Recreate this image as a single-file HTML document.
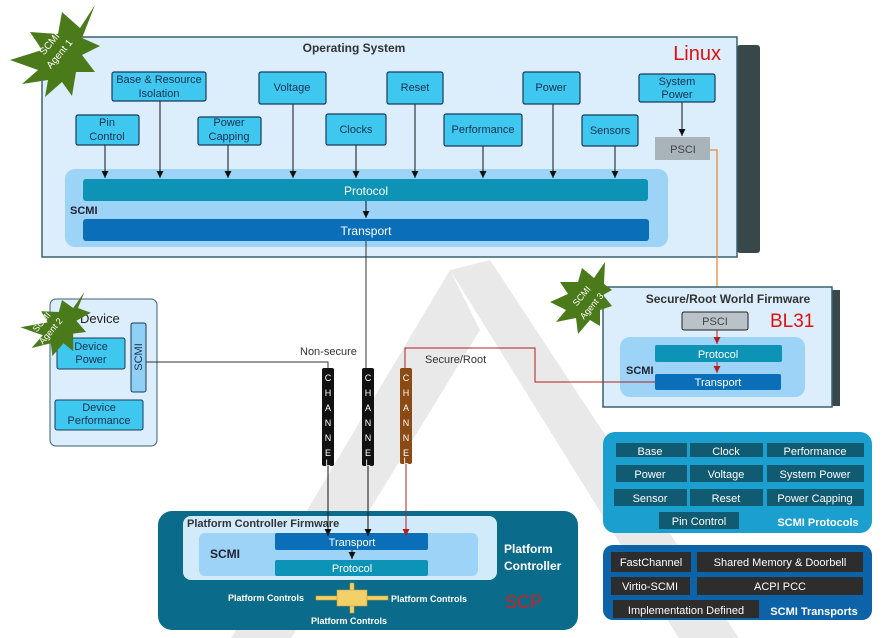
<!DOCTYPE html>
<html><head><meta charset="utf-8"><style>
body{margin:0;background:#fff}
svg{display:block;font-family:"Liberation Sans","DejaVu Sans",sans-serif}
</style></head><body>
<svg width="893" height="638" viewBox="0 0 893 638" xmlns="http://www.w3.org/2000/svg">
<defs>
<marker id="a" viewBox="0 0 8 8" markerWidth="7" markerHeight="7" refX="8" refY="4" orient="auto" markerUnits="userSpaceOnUse"><path d="M0,0 L8,4 L0,8 z" fill="#111"/></marker>
<marker id="ar" viewBox="0 0 8 8" markerWidth="7" markerHeight="7" refX="8" refY="4" orient="auto" markerUnits="userSpaceOnUse"><path d="M0,0 L8,4 L0,8 z" fill="#b02020"/></marker>
<marker id="ao" viewBox="0 0 8 8" markerWidth="7" markerHeight="7" refX="8" refY="4" orient="auto" markerUnits="userSpaceOnUse"><path d="M0,0 L8,4 L0,8 z" fill="#e8883a"/></marker>
</defs>
<g fill="#e4e4e4" opacity="0.8">
<polygon points="230,640 290,640 480,330 450,270"/>
<polygon points="450,270 490,260 740,640 680,640"/>
</g>
<rect x="737" y="45" width="23" height="208" rx="3" fill="#37474a"/>
<rect x="42" y="37" width="695" height="220" fill="#dceefb" stroke="#3a6070" stroke-width="1.5"/>
<text x="354" y="52" font-size="12" font-weight="bold" fill="#333" text-anchor="middle">Operating System</text>
<text x="721" y="60" font-size="20" fill="#e01010" text-anchor="end">Linux</text>
<rect x="65" y="169" width="603" height="78" rx="10" fill="#9dd3f7"/>
<rect x="83" y="179" width="565" height="22" rx="3" fill="#0d93b5"/>
<rect x="83" y="219" width="566" height="22" rx="3" fill="#0a6fb8"/>
<text x="366" y="195" font-size="12" fill="#fff" text-anchor="middle">Protocol</text>
<text x="366" y="235" font-size="12" fill="#fff" text-anchor="middle">Transport</text>
<text x="70" y="214" font-size="11" font-weight="bold" fill="#223">SCMI</text>
<line x1="366" y1="201" x2="366" y2="218" stroke="#111" marker-end="url(#a)"/>
<g stroke="#111" stroke-width="1">
<line x1="105" y1="145" x2="105" y2="178" marker-end="url(#a)"/>
<line x1="160" y1="101" x2="160" y2="178" marker-end="url(#a)"/>
<line x1="228" y1="145" x2="228" y2="178" marker-end="url(#a)"/>
<line x1="293" y1="104" x2="293" y2="178" marker-end="url(#a)"/>
<line x1="356" y1="145" x2="356" y2="178" marker-end="url(#a)"/>
<line x1="415" y1="104" x2="415" y2="178" marker-end="url(#a)"/>
<line x1="483" y1="146" x2="483" y2="178" marker-end="url(#a)"/>
<line x1="553" y1="104" x2="553" y2="178" marker-end="url(#a)"/>
<line x1="615" y1="146" x2="615" y2="178" marker-end="url(#a)"/>
<line x1="682" y1="102" x2="682" y2="136" marker-end="url(#a)"/>
</g>
<g fill="#3ec8f0" stroke="#1a3a5a" stroke-width="1.2">
<rect x="112" y="72" width="94" height="29" rx="2"/>
<rect x="76" y="115" width="63" height="30" rx="2"/>
<rect x="198" y="117" width="63" height="28" rx="2"/>
<rect x="259" y="72" width="67" height="32" rx="2"/>
<rect x="326" y="114" width="60" height="31" rx="2"/>
<rect x="387" y="72" width="56" height="32" rx="2"/>
<rect x="444" y="114" width="78" height="32" rx="2"/>
<rect x="523" y="72" width="57" height="32" rx="2"/>
<rect x="582" y="115" width="56" height="31" rx="2"/>
<rect x="639" y="74" width="76" height="28" rx="2"/>
</g>
<g font-size="11" fill="#1a3050" text-anchor="middle">
<text x="159" y="83">Base &amp; Resource</text><text x="159" y="97">Isolation</text>
<text x="107" y="126">Pin</text><text x="107" y="140">Control</text>
<text x="229" y="126">Power</text><text x="229" y="140">Capping</text>
<text x="292" y="91">Voltage</text>
<text x="356" y="133">Clocks</text>
<text x="415" y="91">Reset</text>
<text x="483" y="133">Performance</text>
<text x="551" y="91">Power</text>
<text x="610" y="134">Sensors</text>
<text x="677" y="85">System</text><text x="677" y="98">Power</text>
</g>
<rect x="655" y="137" width="55" height="23" fill="#a9b3ba"/>
<text x="683" y="153" font-size="11" fill="#444" text-anchor="middle">PSCI</text>
<polyline points="710,150 717,150 717,310" fill="none" stroke="#e8883a" stroke-width="1.3" marker-end="url(#ao)"/>
<rect x="832" y="290" width="8" height="116" fill="#37474a"/>
<rect x="603" y="287" width="229" height="120" fill="#dceefb" stroke="#3a6070" stroke-width="1.5"/>
<text x="728" y="303" font-size="12" font-weight="bold" fill="#333" text-anchor="middle">Secure/Root World Firmware</text>
<text x="770" y="327" font-size="19" fill="#e01010">BL31</text>
<rect x="620" y="337" width="185" height="60" rx="10" fill="#9dd3f7"/>
<rect x="682" y="312" width="66" height="18" rx="2" fill="#b8c2c8" stroke="#222"/>
<text x="715" y="325" font-size="11" fill="#444" text-anchor="middle">PSCI</text>
<rect x="655" y="345" width="127" height="17" rx="2" fill="#0d93b5"/>
<rect x="655" y="374" width="126" height="16" rx="2" fill="#0a6fb8"/>
<text x="718" y="358" font-size="11" fill="#fff" text-anchor="middle">Protocol</text>
<text x="718" y="386" font-size="11" fill="#fff" text-anchor="middle">Transport</text>
<text x="626" y="374" font-size="11" font-weight="bold" fill="#223">SCMI</text>
<line x1="717" y1="330" x2="717" y2="344" stroke="#b02020" marker-end="url(#ar)"/>
<line x1="717" y1="362" x2="717" y2="373" stroke="#b02020" marker-end="url(#ar)"/>
<rect x="50" y="299" width="107" height="147" rx="6" fill="#dceefb" stroke="#3a6070"/>
<text x="80" y="323" font-size="13" fill="#222">Device</text>
<rect x="57" y="338" width="68" height="31" rx="2" fill="#3ec8f0" stroke="#1a3a5a"/>
<rect x="55" y="400" width="88" height="30" rx="2" fill="#3ec8f0" stroke="#1a3a5a"/>
<rect x="131" y="323" width="15" height="69" rx="2" fill="#8fd0f4" stroke="#1a3a5a"/>
<g font-size="11" fill="#1a3050" text-anchor="middle">
<text x="91" y="350">Device</text><text x="91" y="363">Power</text>
<text x="99" y="411">Device</text><text x="99" y="424">Performance</text>
<text transform="translate(142,357) rotate(-90)">SCMI</text>
</g>
<polyline points="146,362 328,362 328,368" fill="none" stroke="#333" stroke-width="1"/>
<line x1="366" y1="241" x2="366" y2="368" stroke="#333"/>
<polyline points="655,382 535,382 535,348 405,348 405,368" fill="none" stroke="#b02020" stroke-width="1"/>
<text x="300" y="355" font-size="11" fill="#333">Non-secure</text>
<text x="425" y="363" font-size="11" fill="#333">Secure/Root</text>
<rect x="322" y="368" width="12" height="98" rx="2" fill="#111"/>
<rect x="362" y="368" width="12" height="98" rx="2" fill="#111"/>
<rect x="400" y="368" width="12" height="96" rx="2" fill="#8a4a14"/>
<g font-size="9" fill="#fff" text-anchor="middle">
<text x="328" y="381">C</text><text x="328" y="396">H</text><text x="328" y="411">A</text><text x="328" y="426">N</text><text x="328" y="441">N</text><text x="328" y="456">E</text><text x="328" y="466">L</text>
<text x="368" y="381">C</text><text x="368" y="396">H</text><text x="368" y="411">A</text><text x="368" y="426">N</text><text x="368" y="441">N</text><text x="368" y="456">E</text><text x="368" y="466">L</text>
<text x="406" y="381">C</text><text x="406" y="396">H</text><text x="406" y="411">A</text><text x="406" y="426">N</text><text x="406" y="441">N</text><text x="406" y="456">E</text><text x="406" y="464">L</text>
</g>
<rect x="158" y="511" width="420" height="119" rx="14" fill="#0b6b8a"/>
<rect x="183" y="516" width="314" height="64" rx="8" fill="#d2ebfa"/>
<rect x="199" y="533" width="279" height="43" rx="6" fill="#9dd3f7"/>
<rect x="275" y="533" width="153" height="17" rx="2" fill="#0a6fb8"/>
<rect x="275" y="560" width="153" height="16" rx="2" fill="#0d93b5"/>
<text x="187" y="527" font-size="11" font-weight="bold" fill="#333">Platform Controller Firmware</text>
<text x="352" y="546" font-size="11" fill="#fff" text-anchor="middle">Transport</text>
<text x="352" y="572" font-size="11" fill="#fff" text-anchor="middle">Protocol</text>
<text x="210" y="558" font-size="12" font-weight="bold" fill="#223">SCMI</text>
<text x="504" y="553" font-size="12" font-weight="bold" fill="#fff">Platform</text>
<text x="504" y="570" font-size="12" font-weight="bold" fill="#fff">Controller</text>
<text x="505" y="608" font-size="18" fill="#d02020">SCP</text>
<line x1="328" y1="466" x2="328" y2="536" stroke="#111" marker-end="url(#a)"/>
<line x1="368" y1="466" x2="368" y2="536" stroke="#111" marker-end="url(#a)"/>
<line x1="406" y1="464" x2="406" y2="536" stroke="#b02020" marker-end="url(#ar)"/>
<line x1="352" y1="550" x2="352" y2="559" stroke="#111" marker-end="url(#a)"/>
<g fill="#f4d06a" stroke="#c8a030" stroke-width="0.6">
<rect x="316" y="596" width="72" height="4"/>
<rect x="350" y="583" width="4" height="30"/>
<rect x="337" y="590" width="30" height="16"/>
</g>
<g font-size="9" font-weight="bold" fill="#fff">
<text x="228" y="601">Platform Controls</text>
<text x="391" y="602">Platform Controls</text>
<text x="311" y="624">Platform Controls</text>
</g>
<rect x="603" y="432" width="269" height="101" rx="12" fill="#1a9fcf"/>
<g fill="#105a72">
<rect x="616" y="443" width="71" height="14"/><rect x="690" y="443" width="73" height="14"/><rect x="767" y="443" width="97" height="14"/>
<rect x="616" y="465" width="71" height="17"/><rect x="690" y="465" width="73" height="17"/><rect x="767" y="465" width="97" height="17"/>
<rect x="614" y="489" width="73" height="17"/><rect x="690" y="489" width="73" height="17"/><rect x="767" y="489" width="97" height="17"/>
<rect x="659" y="512" width="80" height="17"/>
</g>
<g font-size="11" fill="#fff" text-anchor="middle">
<text x="650" y="455">Base</text><text x="726" y="455">Clock</text><text x="815" y="455">Performance</text>
<text x="650" y="478">Power</text><text x="726" y="478">Voltage</text><text x="815" y="478">System Power</text>
<text x="650" y="502">Sensor</text><text x="726" y="502">Reset</text><text x="815" y="502">Power Capping</text>
<text x="699" y="525">Pin Control</text>
<text x="818" y="526" font-weight="bold">SCMI Protocols</text>
</g>
<rect x="603" y="545" width="269" height="75" rx="10" fill="#0d63a8"/>
<g fill="#2d2d2d">
<rect x="611" y="552" width="80" height="20"/><rect x="697" y="552" width="166" height="20"/>
<rect x="611" y="577" width="79" height="18"/><rect x="697" y="577" width="166" height="18"/>
<rect x="613" y="600" width="146" height="18"/>
</g>
<g font-size="11" fill="#fff" text-anchor="middle">
<text x="651" y="566">FastChannel</text><text x="780" y="566">Shared Memory &amp; Doorbell</text>
<text x="650" y="590">Virtio-SCMI</text><text x="780" y="590">ACPI PCC</text>
<text x="686" y="614">Implementation Defined</text>
<text x="814" y="615" font-weight="bold">SCMI Transports</text>
</g>
<g fill="#4a7a1a">
<polygon points="95,5 80,28 62,12 58,34 30,32 42,50 10,60 38,70 22,84 48,80 45,97 62,82 72,96 76,72 95,72 82,55 100,46 82,38"/>
<g transform="translate(6,68) scale(0.8)">
<polygon points="98,280 84,300 70,290 66,305 44,304 52,318 18,324 46,334 32,350 56,344 58,360 72,344 84,354 84,332 100,330 88,316 106,306 90,300"/>
</g>
<polygon points="605,262 594,278 582,268 578,282 560,282 568,294 550,302 566,310 556,322 576,318 578,334 590,320 600,326 600,310 612,306 603,295 612,290 604,284"/>
</g>
<g font-size="10" fill="#fff" text-anchor="middle">
<text transform="translate(52,46) rotate(-50)">SCMI</text>
<text transform="translate(62,56) rotate(-50)">Agent 1</text>
<text transform="translate(44,324) rotate(-50)" font-size="9">SCMI</text>
<text transform="translate(53,333) rotate(-50)" font-size="9">Agent 2</text>
<text transform="translate(584,298) rotate(-50)" font-size="9">SCMI</text>
<text transform="translate(594,308) rotate(-50)" font-size="9">Agent 3</text>
</g>
</svg>
</body></html>
